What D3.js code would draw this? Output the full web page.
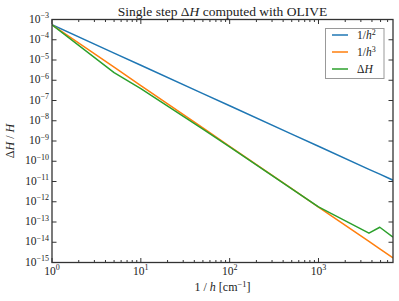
<!DOCTYPE html>
<html><head><meta charset="utf-8">
<script src="https://cdn.jsdelivr.net/npm/d3@7"></script>
<style>body{margin:0;background:#fff}svg{display:block}text{font-family:"Liberation Serif",serif;fill:#222}</style>
</head><body>
<script>
// Data
const xVals = [1, 5, 10, 50, 100, 500, 1000, 3700, 4900, 6900];
const invH2 = [5.5e-4, 2.2e-5, 5.5e-6, 2.2e-7, 5.5e-8, 2.2e-9, 5.5e-10, 4.0e-11, 2.3e-11, 1.16e-11];
const invH3 = [5.5e-4, 4.4e-6, 5.5e-7, 4.4e-9, 5.5e-10, 4.4e-12, 5.5e-13, 1.09e-14, 4.7e-15, 1.67e-15];
const deltaH = [5.4e-4, 2.4e-6, 3.9e-7, 3.9e-9, 5.2e-10, 4.3e-12, 5.6e-13, 2.8e-14, 5.5e-14, 1.8e-14];
const seriesNames = ["1/h2", "1/h3", "ΔH"];
const colors = ["#1f77b4", "#ff7f0e", "#2ca02c"];
const xTickExps = [0, 1, 2, 3];
const yTickExps = [-3, -4, -5, -6, -7, -8, -9, -10, -11, -12, -13, -14, -15];

const W = 399, H = 301;
const m = {l: 52, r: 6, t: 19.5, b: 38.5};
const svg = d3.select("body").append("svg").attr("width", W).attr("height", H);
const x = d3.scaleLog().domain([1, 6900]).range([m.l, W - m.r]);
const y = d3.scaleLog().domain([1e-15, 1e-3]).range([H - m.b, m.t]);
const x0 = m.l, x1 = W - m.r, y0 = H - m.b, y1 = m.t;

// lines
const data = [invH2, invH3, deltaH];
const line = d3.line().x(d => x(d[0])).y(d => y(d[1]));
const clip = svg.append("clipPath").attr("id", "c").append("rect")
  .attr("x", x0).attr("y", y1).attr("width", x1 - x0).attr("height", y0 - y1);
const g = svg.append("g").attr("clip-path", "url(#c)");
data.forEach((s, i) => {
  g.append("path").datum(xVals.map((v, j) => [v, s[j]]))
    .attr("d", line).attr("fill", "none").attr("stroke", colors[i])
    .attr("stroke-width", 1.5).attr("stroke-linejoin", "round");
});

// ticks on all sides (inward)
const tk = svg.append("g").attr("stroke", "#333").attr("stroke-width", 1);
const majorX = xTickExps.map(e => Math.pow(10, e));
const minorX = [];
for (let e = 0; e <= 3; e++) for (let k = 2; k <= 9; k++) { const v = k * Math.pow(10, e); if (v <= 6900) minorX.push(v); }
majorX.forEach(v => {
  tk.append("line").attr("x1", x(v)).attr("x2", x(v)).attr("y1", y0).attr("y2", y0 - 4.5);
  tk.append("line").attr("x1", x(v)).attr("x2", x(v)).attr("y1", y1).attr("y2", y1 + 4.5);
});
minorX.forEach(v => {
  tk.append("line").attr("x1", x(v)).attr("x2", x(v)).attr("y1", y0).attr("y2", y0 - 2.5);
  tk.append("line").attr("x1", x(v)).attr("x2", x(v)).attr("y1", y1).attr("y2", y1 + 2.5);
});
yTickExps.forEach(e => {
  const v = Math.pow(10, e);
  tk.append("line").attr("x1", x0).attr("x2", x0 + 4.5).attr("y1", y(v)).attr("y2", y(v));
  tk.append("line").attr("x1", x1).attr("x2", x1 - 4.5).attr("y1", y(v)).attr("y2", y(v));
});

// frame
svg.append("rect").attr("x", x0).attr("y", y1).attr("width", x1 - x0).attr("height", y0 - y1)
  .attr("fill", "none").attr("stroke", "#333").attr("stroke-width", 1.3);

// tick labels
const fs = 11.5;
xTickExps.forEach(e => {
  const t = svg.append("text").attr("x", x(Math.pow(10, e))).attr("y", y0 + 12)
    .attr("text-anchor", "middle").attr("font-size", fs);
  t.append("tspan").text("10");
  t.append("tspan").attr("dy", -4.5).attr("font-size", 8).text(String(e));
});
yTickExps.forEach(e => {
  const t = svg.append("text").attr("x", x0 - 3).attr("y", y(Math.pow(10, e)) + 3)
    .attr("text-anchor", "end").attr("font-size", fs);
  t.append("tspan").text("10");
  t.append("tspan").attr("dy", -4.5).attr("font-size", 8).text("\u2212" + Math.abs(e));
});

// title
const title = svg.append("text").attr("x", (x0 + x1) / 2).attr("y", 15.5)
  .attr("text-anchor", "middle").attr("font-size", 13.5);
title.append("tspan").text("Single step Δ");
title.append("tspan").attr("font-style", "italic").text("H");
title.append("tspan").text(" computed with OLIVE");

// x label
const xl = svg.append("text").attr("x", (x0 + x1) / 2).attr("y", 291)
  .attr("text-anchor", "middle").attr("font-size", 12);
xl.append("tspan").text("1 / ");
xl.append("tspan").attr("font-style", "italic").text("h");
xl.append("tspan").text(" [cm");
xl.append("tspan").attr("dy", -4.5).attr("font-size", 8.5).text("\u22121");
xl.append("tspan").attr("dy", 4.5).text("]");

// y label
const yl = svg.append("text").attr("transform", `translate(14,${(y0 + y1) / 2}) rotate(-90)`)
  .attr("text-anchor", "middle").attr("font-size", 12);
yl.append("tspan").text("Δ");
yl.append("tspan").attr("font-style", "italic").text("H");
yl.append("tspan").text(" / ");
yl.append("tspan").attr("font-style", "italic").text("H");

// legend
const lg = svg.append("g");
lg.append("rect").attr("x", 325.5).attr("y", 28.5).attr("width", 58.5).attr("height", 50)
  .attr("fill", "#fff").attr("stroke", "#999").attr("stroke-width", 1);
const rowsY = [35, 52, 69];
seriesNames.forEach((n, i) => {
  lg.append("line").attr("x1", 332).attr("x2", 348).attr("y1", rowsY[i]).attr("y2", rowsY[i])
    .attr("stroke", colors[i]).attr("stroke-width", 1.5);
  const t = lg.append("text").attr("x", 357).attr("y", rowsY[i] + 4).attr("font-size", 11.5);
  if (i < 2) {
    t.append("tspan").text("1/");
    t.append("tspan").attr("font-style", "italic").text("h");
    t.append("tspan").attr("dy", -4.5).attr("font-size", 8).text(i === 0 ? "2" : "3");
  } else {
    t.append("tspan").text("Δ");
    t.append("tspan").attr("font-style", "italic").text("H");
  }
});
</script>
</body></html>
